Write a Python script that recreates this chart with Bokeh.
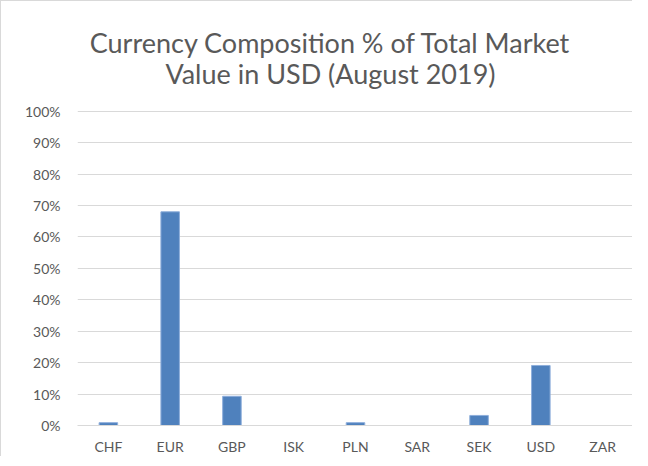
from bokeh.plotting import figure
from bokeh.models import ColumnDataSource, Range1d, FixedTicker, PrintfTickFormatter, Label
from bokeh.embed import file_html
from bokeh.resources import INLINE

currencies = ["CHF", "EUR", "GBP", "ISK", "PLN", "SAR", "SEK", "USD", "ZAR"]
shares = [0.9, 68.0, 9.3, 0.0, 0.9, 0.0, 3.2, 19.1, 0.0]
y_ticks = [0, 10, 20, 30, 40, 50, 60, 70, 80, 90, 100]
title_lines = ["Currency Composition % of Total Market", "Value in USD (August 2019)"]

FONT = "Lato"
TXT = "#595959"
GRID = "#d9d9d9"

src = ColumnDataSource(dict(cur=currencies, val=shares))

# y range extends above 100% to leave room for the title inside the frame
p = figure(x_range=currencies, y_range=Range1d(0, 132.06), width=632, height=456,
           output_backend="svg", toolbar_location=None,
           min_border_left=76, min_border_right=0, min_border_top=9, min_border_bottom=31)
p.title = None

for txt, ty in zip(title_lines, [121.9, 112.06]):
    p.add_layout(Label(x=4.095, y=ty, text=txt, text_align="center", text_baseline="middle",
                       text_font=FONT, text_font_size="27px", text_color=TXT))

p.vbar(x="cur", top="val", width=0.30, source=src, fill_color="#4f81bd",
       line_color="#8eaedb", line_width=1)

p.outline_line_color = None
p.styles = {"border-left": "1px solid #d9d9d9", "border-top": "1px solid #d9d9d9"}

p.yaxis.ticker = FixedTicker(ticks=y_ticks)
p.yaxis.formatter = PrintfTickFormatter(format="%d%%")
p.yaxis.axis_line_color = None
p.yaxis.major_tick_line_color = None
p.yaxis.minor_tick_line_color = None
p.yaxis.major_tick_out = 0
p.yaxis.major_label_standoff = 17
p.yaxis.major_label_text_font = FONT
p.yaxis.major_label_text_font_size = "14px"
p.yaxis.major_label_text_color = TXT

p.xaxis.axis_line_color = GRID
p.xaxis.major_tick_line_color = None
p.xaxis.minor_tick_line_color = None
p.xaxis.major_tick_out = 0
p.xaxis.major_label_standoff = 12
p.xaxis.major_label_text_font = FONT
p.xaxis.major_label_text_font_size = "14px"
p.xaxis.major_label_text_color = TXT

p.xgrid.grid_line_color = None
p.ygrid.grid_line_color = GRID
p.ygrid.grid_line_width = 1

open("out.html", "w").write(file_html(p, INLINE))
